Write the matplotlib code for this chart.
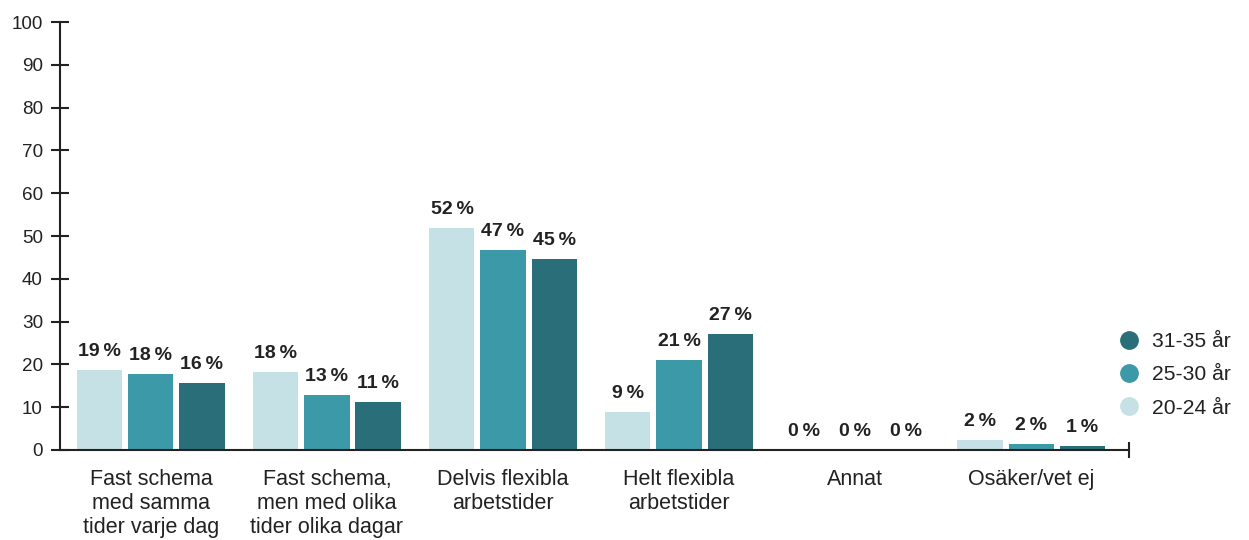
import matplotlib
matplotlib.use("Agg")
import matplotlib.pyplot as plt
import numpy as np
from matplotlib.lines import Line2D

plt.rcParams['font.family'] = ['Liberation Sans', 'DejaVu Sans']

categories = [
    "Fast schema\nmed samma\ntider varje dag",
    "Fast schema,\nmen med olika\ntider olika dagar",
    "Delvis flexibla\narbetstider",
    "Helt flexibla\narbetstider",
    "Annat",
    "Osäker/vet ej",
]
series_names = ["20-24 år", "25-30 år", "31-35 år"]
values_20_24 = [18.7, 18.2, 51.9, 8.9, 0.0, 2.3]
values_25_30 = [17.8, 12.9, 46.7, 21.0, 0.0, 1.5]
values_31_35 = [15.7, 11.2, 44.6, 27.1, 0.0, 0.9]
y_ticks = [0, 10, 20, 30, 40, 50, 60, 70, 80, 90, 100]

colors = ["#c5e1e5", "#3c9aa8", "#2a6e7a"]
text_color = "#222222"

fig = plt.figure(figsize=(12.49, 5.40), dpi=100)
ax = fig.add_axes([0.048, 0.1667, 0.856, 0.7923])

x = np.arange(len(categories))
step = 0.29
width = 0.256
all_series = [values_20_24, values_25_30, values_31_35]
for i, (vals, col) in enumerate(zip(all_series, colors)):
    pos = x + (i - 1) * step
    ax.bar(pos, vals, width=width, color=col, zorder=2)
    for px, v in zip(pos, vals):
        label = f"{int(v + 0.5)}\u2009%"
        ax.annotate(label, (px, v), xytext=(0, 7), textcoords="offset points",
                    ha="center", va="bottom", fontsize=14, fontweight="bold",
                    color=text_color)

ax.set_xlim(-0.517, 5.557)
ax.set_ylim(0, 100)
ax.set_yticks(y_ticks)
ax.set_xticks(x)
ax.set_xticklabels(categories, fontsize=15.5, color=text_color, linespacing=1.2)

for s in ["top", "right"]:
    ax.spines[s].set_visible(False)
for s in ["left", "bottom"]:
    ax.spines[s].set_linewidth(1.5)
    ax.spines[s].set_color(text_color)

ax.tick_params(axis="y", direction="inout", length=13, width=1.5,
               color=text_color, labelsize=13.6, labelcolor=text_color, pad=5.8)
ax.tick_params(axis="x", length=0, pad=13.5)

# end cap on the category axis
ax.plot([1], [0], marker="|", markersize=12, markeredgewidth=1.5,
        color=text_color, transform=ax.transAxes, clip_on=False)

handles = [Line2D([0], [0], marker="o", linestyle="", markersize=12.5,
                  markerfacecolor=c, markeredgecolor=c) for c in colors[::-1]]
fig.legend(handles, series_names[::-1], loc="center left",
           bbox_to_anchor=(0.881, 0.3056), frameon=False, fontsize=15.2,
           handlelength=0.95, handletextpad=0.6, labelspacing=0.68,
           labelcolor=text_color)

fig.savefig("out.png", dpi=100)
